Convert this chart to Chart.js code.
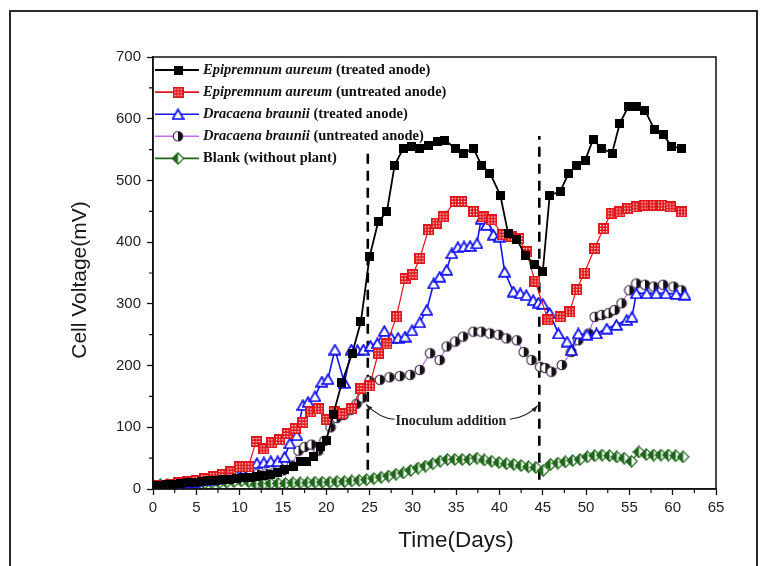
<!DOCTYPE html>
<html>
<head>
<meta charset="utf-8">
<script src="https://cdn.jsdelivr.net/npm/chart.js@4.4.1/dist/chart.umd.min.js"></script>
<style>
  html, body { margin: 0; padding: 0; background: #fff; }
  canvas { display: block; }
</style>
</head>
<body>
<canvas id="chart" width="766" height="566"></canvas>
<script>
// Cell voltage (mV) against time (days) for the plant microbial fuel cells

// Epipremnum aureum, treated anode
const epiTreatedDays = [0,0.8,1.6,2.4,3.2,4,4.8,5.6,6.4,7.2,8,8.8,9.6,10.4,11.2,12,12.8,13.6,14.4,15.2,16.2,17,17.7,18.5,19.3,20,20.8,21.8,23,24,25,26,27,27.9,28.9,29.9,30.8,31.8,32.8,33.7,34.9,35.8,37,37.9,38.9,40.1,41,42,43,44.1,45,45.8,47,48,48.9,49.9,50.8,51.8,53,53.9,54.9,55.8,56.8,57.9,58.9,59.9,61];
const epiTreatedMv = [5,6,7,8,9,10,11,12,13,14,15,16,17,18,19,20,22,24,27,31,36,44,44,52,69,79,120,172,220,271,376,433,449,525,552,555,552,557,563,565,552,544,552,525,512,476,414,405,378,364,352,476,482,512,525,533,566,552,544,593,620,620,614,582,574,555,552];

// Epipremnum aureum, untreated anode
const epiUntreatedDays = [0,1,2,3,4,5,6,7,8,9,10,11,11.9,12.8,13.7,14.6,15.5,16.4,17.3,18.2,19.1,20,20.9,21.9,22.9,24,25,26,27,28.1,29.1,30,30.8,31.8,32.7,33.5,34.9,35.6,37,38.1,39.1,40.4,41.4,42.2,43.1,44.1,45.6,47,48.1,48.9,49.8,51,52,52.9,53.9,54.8,55.8,56.8,57.8,58.7,59.7,61];
const epiUntreatedMv = [5,6,8,10,12,14,17,20,24,28,36,36,77,65,75,80,90,98,108,125,130,113,125,122,130,163,167,220,235,279,341,348,374,420,431,441,466,466,450,441,436,412,409,406,385,337,274,279,287,323,350,390,422,447,449,455,457,460,460,460,457,449];

// Dracaena braunii, treated anode
const draTreatedDays = [0,0.8,1.6,2.4,3.2,4,4.8,5.6,6.4,7.2,8,8.8,9.6,10.4,11.2,12,12.8,13.6,14.4,15.2,15.8,16.6,17.3,17.9,18.7,19.5,20.2,21,22.1,22.9,23.6,24.3,25.1,25.9,26.7,27.5,28.3,29.1,29.9,30.8,31.6,32.4,33.1,33.9,34.5,35.2,35.9,36.6,37.4,37.9,38.5,39.3,40,40.6,41.6,42.4,43.1,43.9,44.5,45,45.8,46.8,47.8,48.3,49.1,50.1,51.2,52.4,53.5,54.7,55.3,55.8,57,58.1,59.2,60.4,61.4];
const draTreatedMv = [4,5,6,7,8,10,12,14,15,17,19,21,23,25,30,42,43,45,45,52,74,87,136,141,150,174,178,226,172,226,225,226,232,236,256,245,245,247,257,270,290,333,344,355,382,392,393,394,398,438,428,412,409,352,320,317,314,306,302,300,285,252,239,225,252,250,252,260,266,274,279,317,317,317,317,316,315];

// Dracaena braunii, untreated anode
const draUntreatedDays = [0,1,2,3,4,5,6,7,8,9,10,11,12,13,14,15,16,16.8,17.5,18.3,19.1,19.8,20.5,21.2,22,22.8,23.5,24.2,25,26.2,27.3,28.5,29.7,30.8,32,33.1,33.9,34.9,35.8,37,37.9,38.9,39.9,40.8,42,42.8,43.7,44.7,45.3,46,47.2,48.3,49.1,50.3,51,51.8,52.6,53.3,54.1,55,55.8,56.8,57.8,58.9,60.1,61];
const draUntreatedMv = [4,5,6,7,9,11,13,15,17,19,21,22,24,25,27,30,38,62,68,72,62,78,100,115,120,128,138,148,175,177,181,183,185,193,220,209,231,239,247,255,255,252,250,244,241,222,209,198,196,190,201,222,241,252,279,282,285,290,301,322,333,331,328,331,328,322];

// Blank cell, without plant
const blankDays = [0,0.85,1.7,2.55,3.4,4.25,5.1,5.95,6.8,7.65,8.5,9.35,10.2,11.05,11.9,12.75,13.6,14.45,15.3,16.15,17,17.85,18.7,19.55,20.4,21.25,22.1,22.95,23.8,24.65,25.5,26.35,27.2,28.05,28.9,29.75,30.6,31.45,32.3,33.15,34,34.85,35.7,36.55,37.4,38.25,39.1,39.95,40.8,41.65,42.5,43.35,44.2,45.05,45.9,46.75,47.6,48.45,49.3,50.15,51,51.85,52.7,53.55,54.4,55.25,56.1,56.95,57.8,58.65,59.5,60.35,61.2];
const blankMv = [6,7,7,8,8,8,9,9,10,10,11,12,13,12,8,8,9,9,9,10,10,10,11,11,11,12,12,13,14,15,17,19,21,24,26,30,34,37,41,45,48,48,48,48,50,47,45,43,41,40,38,36,35,30,40,42,44,46,48,52,54,55,54,52,50,45,60,56,55,55,55,54,52];

// Inoculum addition days and the span of the marker lines (mV)
const inoculumDays = [24.8, 44.6];
const inoculumSpans = [[31, 553], [15, 572]];

// Axis ticks
const xTickValues = [0,5,10,15,20,25,30,35,40,45,50,55,60,65];
const yTickValues = [0,100,200,300,400,500,600,700];
const xMinorTicks = [2.5,7.5,12.5,17.5,22.5,27.5,32.5,37.5,42.5,47.5,52.5,57.5,62.5];
const yMinorTicks = [50,150,250,350,450,550,650];

// Legend text: species part (italic) and condition part
const legendSpecies = ['Epipremnum aureum', 'Epipremnum aureum', 'Dracaena braunii', 'Dracaena braunii', ''];
const legendNotes = [' (treated anode)', ' (untreated anode)', ' (treated anode)', ' (untreated anode)', 'Blank (without plant)'];

const annotationText = 'Inoculum addition';

// ---- marker glyphs ----
function makeMarker(w, h, paint) {
  const c = document.createElement('canvas');
  c.width = w; c.height = h;
  paint(c.getContext('2d'), w, h);
  return c;
}
const blackSquare = makeMarker(9, 9, (g, w, h) => { g.fillStyle = '#000'; g.fillRect(0, 0, w, h); });
const redSquare = makeMarker(11, 11, (g) => {
  g.fillStyle = '#e0161b'; g.fillRect(0, 0, 11, 11);
  g.fillStyle = '#fff';
  [[2,2],[5,2],[8,2],[2,5],[8,5],[2,8],[5,8],[8,8],[5,5]].forEach(([x, y]) => g.fillRect(x, y, 1.3, 1.3));
});
const blueTriangle = makeMarker(13, 12, (g) => {
  g.beginPath(); g.moveTo(6.5, 1.2); g.lineTo(12, 10.8); g.lineTo(1, 10.8); g.closePath();
  g.fillStyle = '#fff'; g.fill();
  g.lineWidth = 1.8; g.strokeStyle = '#1414f0'; g.stroke();
});
const halfCircle = makeMarker(12, 12, (g) => {
  g.beginPath(); g.arc(6, 6, 4.8, 0, Math.PI * 2); g.fillStyle = '#fff'; g.fill();
  g.beginPath(); g.moveTo(6, 1.2); g.arc(6, 6, 4.8, -Math.PI / 2, Math.PI / 2); g.closePath();
  g.fillStyle = '#111'; g.fill();
  g.beginPath(); g.arc(6, 6, 4.8, 0, Math.PI * 2); g.lineWidth = 1.1; g.strokeStyle = '#3a2540'; g.stroke();
});
const halfDiamond = makeMarker(13, 13, (g) => {
  g.beginPath(); g.moveTo(6.5, 0.8); g.lineTo(12.2, 6.5); g.lineTo(6.5, 12.2); g.lineTo(0.8, 6.5); g.closePath();
  g.fillStyle = '#fff'; g.fill();
  g.beginPath(); g.moveTo(6.5, 0.8); g.lineTo(6.5, 12.2); g.lineTo(0.8, 6.5); g.closePath();
  g.fillStyle = '#1f661a'; g.fill();
  g.beginPath(); g.moveTo(6.5, 0.8); g.lineTo(12.2, 6.5); g.lineTo(6.5, 12.2); g.lineTo(0.8, 6.5); g.closePath();
  g.lineWidth = 1.2; g.strokeStyle = '#1f661a'; g.stroke();
});

const pairUp = (days, mv) => days.map((d, i) => ({ x: d, y: mv[i] }));

const seriesStyles = [
  { color: '#000000', width: 1.8, marker: blackSquare },
  { color: '#e0161b', width: 1.2, marker: redSquare },
  { color: '#1414f0', width: 1.6, marker: blueTriangle },
  { color: '#c46cf0', width: 1.2, marker: halfCircle },
  { color: '#1f661a', width: 1.2, marker: halfDiamond }
];
const seriesData = [
  pairUp(epiTreatedDays, epiTreatedMv),
  pairUp(epiUntreatedDays, epiUntreatedMv),
  pairUp(draTreatedDays, draTreatedMv),
  pairUp(draUntreatedDays, draUntreatedMv),
  pairUp(blankDays, blankMv)
];

const datasets = seriesData.map((data, i) => ({
  label: (legendSpecies[i] + legendNotes[i]).trim(),
  data,
  borderColor: seriesStyles[i].color,
  backgroundColor: seriesStyles[i].color,
  borderWidth: seriesStyles[i].width,
  pointStyle: seriesStyles[i].marker,
  pointRadius: 5,
  tension: 0,
  fill: false,
  order: 0
}));
inoculumDays.forEach((d, i) => {
  datasets.push({
    label: 'inoculum ' + (i + 1),
    data: [{ x: d, y: inoculumSpans[i][0] }, { x: d, y: inoculumSpans[i][1] }],
    borderColor: '#000',
    borderWidth: 2.6,
    borderDash: [10, 7],
    pointRadius: 0,
    tension: 0,
    fill: false,
    order: 10
  });
});

// Frame, plot box, minor ticks, axis titles, legend and the inoculum note
const decorations = {
  id: 'decorations',
  beforeDraw(chart) {
    const ctx = chart.ctx;
    ctx.save();
    ctx.fillStyle = '#fff';
    ctx.fillRect(0, 0, chart.width, chart.height);
    ctx.strokeStyle = '#2a2a2a';
    ctx.lineWidth = 2;
    ctx.beginPath();
    ctx.moveTo(10, chart.height); ctx.lineTo(10, 11); ctx.lineTo(757, 11); ctx.lineTo(757, chart.height);
    ctx.stroke();
    ctx.restore();
  },
  afterDraw(chart) {
    const ctx = chart.ctx;
    const a = chart.chartArea;
    const xs = chart.scales.x, ys = chart.scales.y;
    ctx.save();

    // plot box
    ctx.strokeStyle = '#111';
    ctx.lineWidth = 1.5;
    ctx.strokeRect(a.left, a.top, a.right - a.left, a.bottom - a.top);

    // minor ticks
    ctx.lineWidth = 1.2;
    ctx.beginPath();
    xMinorTicks.forEach(v => { const px = xs.getPixelForValue(v); ctx.moveTo(px, a.bottom); ctx.lineTo(px, a.bottom + 4); });
    yMinorTicks.forEach(v => { const py = ys.getPixelForValue(v); ctx.moveTo(a.left, py); ctx.lineTo(a.left - 4, py); });
    ctx.stroke();

    // axis titles
    ctx.fillStyle = '#1a1a1a';
    ctx.font = '22.5px "Liberation Sans", Arial, sans-serif';
    ctx.textAlign = 'center';
    ctx.textBaseline = 'middle';
    ctx.fillText('Time(Days)', 456, 541);
    ctx.font = '21px "Liberation Sans", Arial, sans-serif';
    ctx.save();
    ctx.translate(80, 280);
    ctx.rotate(-Math.PI / 2);
    ctx.fillText('Cell Voltage(mV)', 0, 0);
    ctx.restore();

    // legend
    const serif = '"Liberation Serif", "Times New Roman", serif';
    ctx.textAlign = 'left';
    ctx.textBaseline = 'middle';
    ctx.fillStyle = '#111';
    for (let i = 0; i < legendNotes.length; i++) {
      const y = a.top + 13 + i * 22.1;
      const st = seriesStyles[i];
      ctx.strokeStyle = st.color;
      ctx.lineWidth = Math.max(st.width, 1.6);
      ctx.beginPath(); ctx.moveTo(a.left + 2, y); ctx.lineTo(a.left + 46, y); ctx.stroke();
      const m = st.marker;
      ctx.drawImage(m, a.left + 25 - m.width / 2, y - m.height / 2);
      let tx = a.left + 50;
      if (legendSpecies[i]) {
        ctx.font = 'italic bold 14.5px ' + serif;
        ctx.fillText(legendSpecies[i], tx, y);
        tx += ctx.measureText(legendSpecies[i]).width;
      }
      ctx.font = 'bold 14.5px ' + serif;
      ctx.fillText(legendNotes[i], tx, y);
    }

    // inoculum note with arrows to the marker lines
    ctx.font = 'bold 14px ' + serif;
    ctx.fillStyle = '#222';
    ctx.textAlign = 'center';
    ctx.fillText(annotationText, xs.getPixelForValue(34.4), ys.getPixelForValue(109));
    const arrow = (x0, y0, cx, cy, x1, y1) => {
      const p0 = [xs.getPixelForValue(x0), ys.getPixelForValue(y0)];
      const pc = [xs.getPixelForValue(cx), ys.getPixelForValue(cy)];
      const p1 = [xs.getPixelForValue(x1), ys.getPixelForValue(y1)];
      ctx.strokeStyle = '#222';
      ctx.lineWidth = 1.1;
      ctx.beginPath(); ctx.moveTo(p0[0], p0[1]); ctx.quadraticCurveTo(pc[0], pc[1], p1[0], p1[1]); ctx.stroke();
      const ang = Math.atan2(p1[1] - pc[1], p1[0] - pc[0]);
      ctx.fillStyle = '#222';
      ctx.beginPath();
      ctx.moveTo(p1[0], p1[1]);
      ctx.lineTo(p1[0] - 7 * Math.cos(ang - 0.35), p1[1] - 7 * Math.sin(ang - 0.35));
      ctx.lineTo(p1[0] - 7 * Math.cos(ang + 0.35), p1[1] - 7 * Math.sin(ang + 0.35));
      ctx.closePath(); ctx.fill();
    };
    arrow(27.9, 113, 26.3, 113, 24.6, 137);
    arrow(41.2, 113, 43.2, 116, 44.4, 135);

    ctx.restore();
  }
};

new Chart(document.getElementById('chart'), {
  type: 'line',
  data: { datasets },
  options: {
    responsive: false,
    maintainAspectRatio: false,
    devicePixelRatio: 1,
    animation: false,
    layout: { padding: { top: 57, right: 50, left: 0, bottom: 0 } },
    plugins: { legend: { display: false }, tooltip: { enabled: false } },
    scales: {
      x: {
        type: 'linear',
        min: 0, max: 65,
        afterBuildTicks: s => { s.ticks = xTickValues.map(v => ({ value: v })); },
        afterFit: s => { s.height = 77; },
        grid: { drawOnChartArea: false, drawTicks: true, tickLength: 6, tickColor: '#111', tickWidth: 1.3 },
        border: { display: true, color: '#111', width: 1.5 },
        ticks: { color: '#222', padding: 4, maxRotation: 0, font: { size: 15, family: '"Liberation Sans", Arial, sans-serif' } }
      },
      y: {
        type: 'linear',
        min: 0, max: 700,
        afterBuildTicks: s => { s.ticks = yTickValues.map(v => ({ value: v })); },
        afterFit: s => { s.width = 153; },
        grid: { drawOnChartArea: false, drawTicks: true, tickLength: 6, tickColor: '#111', tickWidth: 1.3 },
        border: { display: true, color: '#111', width: 1.5 },
        ticks: { color: '#222', padding: 6, font: { size: 15, family: '"Liberation Sans", Arial, sans-serif' } }
      }
    }
  },
  plugins: [decorations]
});
</script>
</body>
</html>
